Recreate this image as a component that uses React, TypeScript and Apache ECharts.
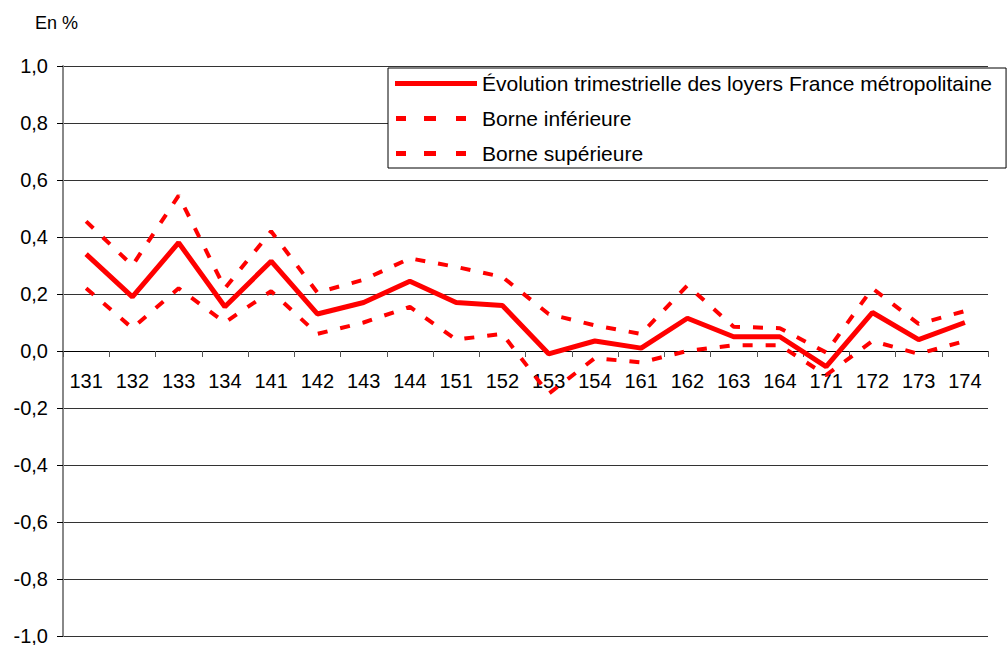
import React, { useEffect, useRef } from "react";
import * as echarts from "echarts";

const categories = ["131", "132", "133", "134", "141", "142", "143", "144", "151", "152", "153", "154", "161", "162", "163", "164", "171", "172", "173", "174"];
const evolution = [0.34, 0.19, 0.38, 0.155, 0.315, 0.13, 0.17, 0.245, 0.17, 0.16, -0.01, 0.035, 0.01, 0.115, 0.05, 0.05, -0.055, 0.135, 0.04, 0.1];
const borneInf = [0.22, 0.08, 0.22, 0.1, 0.21, 0.06, 0.1, 0.155, 0.04, 0.06, -0.15, -0.025, -0.04, 0.0, 0.02, 0.02, -0.085, 0.035, -0.01, 0.035];
const borneSup = [0.455, 0.3, 0.545, 0.22, 0.42, 0.205, 0.25, 0.325, 0.295, 0.26, 0.13, 0.09, 0.06, 0.23, 0.085, 0.08, -0.005, 0.22, 0.095, 0.14];
const seriesNames = ["Évolution trimestrielle des loyers France métropolitaine", "Borne inférieure", "Borne supérieure"];
const unitLabel = "En %";
const yMin = -1;
const yMax = 1;

const FONT = "'Liberation Sans', Arial, Helvetica, sans-serif";
const DASH_ICON = "path://M0,0M1,0h10v5h-10zM29,0h12v5h-12zM61,0h10v5h-10zM82,5";

const GRID_TOP = 66;
const GRID_BOTTOM = 9;
const HEIGHT = 645;

export default function App() {
  const ref = useRef<HTMLDivElement>(null);
  useEffect(() => {
    if (!ref.current) return;
    const chart = echarts.init(ref.current, null, { renderer: "svg" });
    const fmt = (v: number) => (Math.abs(v) < 1e-9 ? "0,0" : v.toFixed(1).replace(".", ","));
    const gridH = HEIGHT - GRID_TOP - GRID_BOTTOM;
    // distance from grid bottom to the zero line (x axis sits on zero)
    const zeroOffset = -(gridH * (0 - yMin)) / (yMax - yMin);
    chart.setOption({
      animation: false,
      backgroundColor: "#fff",
      textStyle: { fontFamily: FONT },
      title: {
        text: unitLabel,
        left: 30,
        top: 9,
        textStyle: { fontFamily: FONT, fontSize: 18, fontWeight: "normal", color: "#000" },
      },
      grid: { left: 63, top: GRID_TOP, right: 19, bottom: GRID_BOTTOM, containLabel: false, outerBoundsMode: "none" },
      legend: {
        orient: "vertical",
        left: 388,
        top: 68,
        padding: [5, 14, 4, 7],
        itemWidth: 82,
        itemHeight: 5,
        itemGap: 14,
        backgroundColor: "#fff",
        borderColor: "#000",
        borderWidth: 1,
        selectedMode: false,
        textStyle: { fontFamily: FONT, fontSize: 21, color: "#000", lineHeight: 21 },
        data: [
          { name: seriesNames[0], icon: "rect", itemStyle: { color: "#ff0000" } },
          { name: seriesNames[1], icon: DASH_ICON, itemStyle: { color: "#ff0000" } },
          { name: seriesNames[2], icon: DASH_ICON, itemStyle: { color: "#ff0000" } },
        ],
      },
      xAxis: {
        type: "category",
        data: categories,
        boundaryGap: true,
        position: "bottom",
        offset: zeroOffset,
        axisLine: { onZero: false, lineStyle: { color: "#000", width: 1 } },
        axisTick: { show: true, interval: 0, length: 6, lineStyle: { color: "#555" } },
        axisLabel: { interval: 0, margin: 20, fontSize: 20, color: "#000", fontFamily: FONT },
        splitLine: { show: false },
      },
      yAxis: {
        type: "value",
        min: yMin,
        max: yMax,
        interval: 0.2,
        axisLine: { show: true, onZero: false, lineStyle: { color: "#888", width: 2 } },
        axisTick: { show: true, length: 6, lineStyle: { color: "#000" } },
        axisLabel: { margin: 15, fontSize: 20, lineHeight: 15, color: "#000", fontFamily: FONT, formatter: fmt },
        splitLine: { show: true, lineStyle: { color: "#333", width: 1 } },
      },
      series: [
        {
          name: seriesNames[0],
          type: "line",
          data: evolution,
          symbol: "none",
          showSymbol: false,
          z: 3,
          lineStyle: { color: "#ff0000", width: 5 },
          itemStyle: { color: "#ff0000" },
        },
        {
          name: seriesNames[1],
          type: "line",
          data: borneInf,
          symbol: "none",
          showSymbol: false,
          z: 2,
          lineStyle: { color: "#ff0000", width: 4, type: [10, 13] },
          itemStyle: { color: "#ff0000" },
        },
        {
          name: seriesNames[2],
          type: "line",
          data: borneSup,
          symbol: "none",
          showSymbol: false,
          z: 2,
          lineStyle: { color: "#ff0000", width: 4, type: [10, 13] },
          itemStyle: { color: "#ff0000" },
        },
      ],
    });
    return () => chart.dispose();
  }, []);
  return (
    <div
      ref={ref}
      style={{ position: "fixed", left: 0, top: 0, width: 1007, height: 645, background: "#fff" }}
    />
  );
}
